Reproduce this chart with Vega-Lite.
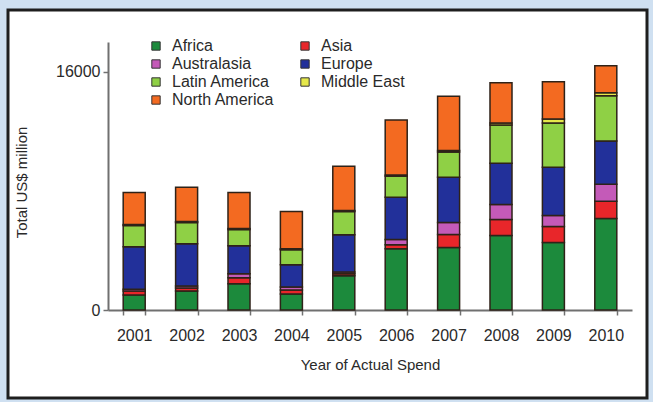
{
  "$schema": "https://vega.github.io/schema/vega-lite/v6.json",
  "autosize": "none",
  "width": 639,
  "height": 388,
  "padding": {"left": 8, "top": 10, "right": 6, "bottom": 4},
  "background": "#cfe0f1",
  "data": {
    "values": [
      {"year": "2001", "region": "Africa", "value": 1000},
      {"year": "2001", "region": "Asia", "value": 270},
      {"year": "2001", "region": "Australasia", "value": 130},
      {"year": "2001", "region": "Europe", "value": 2850},
      {"year": "2001", "region": "Latin America", "value": 1420},
      {"year": "2001", "region": "Middle East", "value": 70},
      {"year": "2001", "region": "North America", "value": 2160},
      {"year": "2002", "region": "Africa", "value": 1280},
      {"year": "2002", "region": "Asia", "value": 200},
      {"year": "2002", "region": "Australasia", "value": 130},
      {"year": "2002", "region": "Europe", "value": 2840},
      {"year": "2002", "region": "Latin America", "value": 1420},
      {"year": "2002", "region": "Middle East", "value": 70},
      {"year": "2002", "region": "North America", "value": 2300},
      {"year": "2003", "region": "Africa", "value": 1760},
      {"year": "2003", "region": "Asia", "value": 400},
      {"year": "2003", "region": "Australasia", "value": 270},
      {"year": "2003", "region": "Europe", "value": 1890},
      {"year": "2003", "region": "Latin America", "value": 1080},
      {"year": "2003", "region": "Middle East", "value": 70},
      {"year": "2003", "region": "North America", "value": 2430},
      {"year": "2004", "region": "Africa", "value": 1080},
      {"year": "2004", "region": "Asia", "value": 270},
      {"year": "2004", "region": "Australasia", "value": 200},
      {"year": "2004", "region": "Europe", "value": 1490},
      {"year": "2004", "region": "Latin America", "value": 1010},
      {"year": "2004", "region": "Middle East", "value": 70},
      {"year": "2004", "region": "North America", "value": 2500},
      {"year": "2005", "region": "Africa", "value": 2300},
      {"year": "2005", "region": "Asia", "value": 130},
      {"year": "2005", "region": "Australasia", "value": 130},
      {"year": "2005", "region": "Europe", "value": 2500},
      {"year": "2005", "region": "Latin America", "value": 1550},
      {"year": "2005", "region": "Middle East", "value": 70},
      {"year": "2005", "region": "North America", "value": 2970},
      {"year": "2006", "region": "Africa", "value": 4120},
      {"year": "2006", "region": "Asia", "value": 270},
      {"year": "2006", "region": "Australasia", "value": 340},
      {"year": "2006", "region": "Europe", "value": 2840},
      {"year": "2006", "region": "Latin America", "value": 1420},
      {"year": "2006", "region": "Middle East", "value": 70},
      {"year": "2006", "region": "North America", "value": 3700},
      {"year": "2007", "region": "Africa", "value": 4190},
      {"year": "2007", "region": "Asia", "value": 880},
      {"year": "2007", "region": "Australasia", "value": 810},
      {"year": "2007", "region": "Europe", "value": 3040},
      {"year": "2007", "region": "Latin America", "value": 1690},
      {"year": "2007", "region": "Middle East", "value": 100},
      {"year": "2007", "region": "North America", "value": 3650},
      {"year": "2008", "region": "Africa", "value": 5000},
      {"year": "2008", "region": "Asia", "value": 1080},
      {"year": "2008", "region": "Australasia", "value": 1010},
      {"year": "2008", "region": "Europe", "value": 2770},
      {"year": "2008", "region": "Latin America", "value": 2570},
      {"year": "2008", "region": "Middle East", "value": 135},
      {"year": "2008", "region": "North America", "value": 2700},
      {"year": "2009", "region": "Africa", "value": 4530},
      {"year": "2009", "region": "Asia", "value": 1080},
      {"year": "2009", "region": "Australasia", "value": 740},
      {"year": "2009", "region": "Europe", "value": 3240},
      {"year": "2009", "region": "Latin America", "value": 2970},
      {"year": "2009", "region": "Middle East", "value": 270},
      {"year": "2009", "region": "North America", "value": 2500},
      {"year": "2010", "region": "Africa", "value": 6150},
      {"year": "2010", "region": "Asia", "value": 1150},
      {"year": "2010", "region": "Australasia", "value": 1150},
      {"year": "2010", "region": "Europe", "value": 2900},
      {"year": "2010", "region": "Latin America", "value": 3040},
      {"year": "2010", "region": "Middle East", "value": 200},
      {"year": "2010", "region": "North America", "value": 1820}
    ]
  },
  "mark": {"type": "bar", "stroke": "#2e2218", "strokeWidth": 1.5},
  "encoding": {
    "x": {
      "field": "year",
      "type": "ordinal",
      "scale": {"range": [100, 624], "paddingInner": 0.58, "paddingOuter": 0.29},
      "axis": {
        "title": "Year of Actual Spend",
        "offset": -88,
        "labelAngle": 0,
        "tickBand": "extent",
        "tickSize": 5,
        "labelPadding": 12,
        "titlePadding": 14
      }
    },
    "y": {
      "field": "value",
      "type": "quantitative",
      "stack": "zero",
      "scale": {"domain": [0, 18000], "range": [300, 32], "nice": false},
      "axis": {
        "title": "Total US$ million",
        "offset": -100,
        "values": [0, 16000],
        "format": "d",
        "grid": false,
        "tickSize": 5,
        "labelPadding": 3,
        "titleX": -79,
        "titleY": 172
      }
    },
    "color": {
      "field": "region",
      "type": "nominal",
      "scale": {
        "domain": ["Africa", "Asia", "Australasia", "Europe", "Latin America", "Middle East", "North America"],
        "range": ["#1c8a3c", "#e8262a", "#c45ab8", "#22309a", "#8fd045", "#e5e84a", "#f36a21"]
      },
      "legend": {
        "orient": "none",
        "legendX": 140,
        "legendY": 28,
        "columns": 2,
        "columnPadding": 22,
        "rowPadding": 2,
        "title": null,
        "values": ["Africa", "Australasia", "Latin America", "North America", "Asia", "Europe", "Middle East"],
        "symbolType": "square",
        "symbolSize": 70,
        "symbolStrokeColor": "#333333",
        "symbolStrokeWidth": 1,
        "labelOffset": 8,
        "labelFontSize": 16,
        "labelFont": "Liberation Sans",
        "labelColor": "#2a2a2a"
      }
    },
    "order": {"field": "region", "sort": "ascending"}
  },
  "config": {
    "view": {"fill": "white", "stroke": "#1e1e1e", "strokeWidth": 3},
    "axis": {
      "domainColor": "#707070",
      "domainWidth": 2,
      "tickColor": "#707070",
      "tickWidth": 1.5,
      "labelFont": "Liberation Sans",
      "labelFontSize": 16,
      "labelColor": "#2a2a2a",
      "titleFont": "Liberation Sans",
      "titleFontSize": 15,
      "titleFontWeight": "normal",
      "titleColor": "#2a2a2a"
    }
  }
}
